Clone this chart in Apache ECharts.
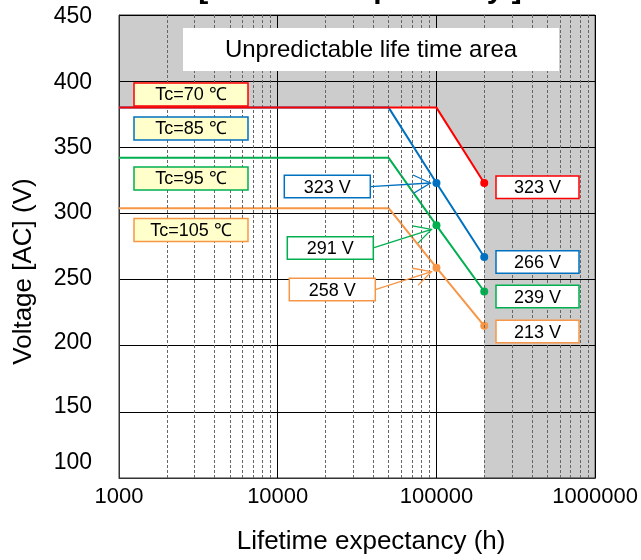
<!DOCTYPE html>
<html><head><meta charset="utf-8">
<script src="https://cdn.jsdelivr.net/npm/echarts@6/dist/echarts.min.js"></script>
<style>html,body{margin:0;padding:0;background:#fff}#c{width:641px;height:560px}</style>
</head><body><div id="c"></div>
<script>
// ---- data ----
const xTickLabels = ['1000', '10000', '100000', '1000000'];
const yTickLabels = ['100', '150', '200', '250', '300', '350', '400', '450'];
const seriesNames = ['Tc=70 ℃', 'Tc=85 ℃', 'Tc=95 ℃', 'Tc=105 ℃'];
const hours70 = [1000, 100000, 200000];
const volt70 = [380, 380, 323];
const hours85 = [1000, 50000, 100000, 200000];
const volt85 = [380, 380, 323, 267];
const hours95 = [1000, 50000, 100000, 200000];
const volt95 = [342, 342, 291, 241];
const hours105 = [1000, 50000, 100000, 200000];
const volt105 = [304, 304, 259, 215];
const endLabels = ['323 V', '266 V', '239 V', '213 V'];
const midLabels = ['323 V', '291 V', '258 V'];
const unpredictableHours = [1000, 100000, 200000, 200000, 1000000];
const unpredictableVolt = [380, 380, 323, 100, 100];
const minorGridHours = [2000, 3000, 4000, 5000, 6000, 7000, 8000, 9000,
  20000, 30000, 40000, 50000, 60000, 70000, 80000, 90000,
  200000, 300000, 400000, 500000, 600000, 700000, 800000, 900000];
const areaTitle = 'Unpredictable life time area';
const chartTitle = '[ Lifetime expectancy ]';

// ---- styles ----
const colors = ['#ff0000', '#0070c0', '#00b050', '#f79646'];
const FONT = "'Liberation Sans', Arial, sans-serif";
const yLabelLift = [15, 5, 3, 1, 1, 0, -2, -2]; // px the tick labels sit above their gridlines

function pts(h, v, dotIdx) {
  return h.map((x, i) => ({
    value: [x, v[i]],
    symbol: dotIdx.indexOf(i) >= 0 ? 'circle' : 'none'
  }));
}

const chart = echarts.init(document.getElementById('c'), null, {renderer: 'canvas'});

const lineSeries = [
  {name: seriesNames[3], data: pts(hours105, volt105, [2, 3]), color: colors[3], z: 3},
  {name: seriesNames[2], data: pts(hours95, volt95, [2, 3]), color: colors[2], z: 4},
  {name: seriesNames[1], data: pts(hours85, volt85, [2, 3]), color: colors[1], z: 5},
  {name: seriesNames[0], data: pts(hours70, volt70, [2]), color: colors[0], z: 6}
].map(s => ({
  type: 'line', name: s.name, data: s.data, z: s.z,
  symbolSize: 8, showAllSymbol: true,
  lineStyle: {color: s.color, width: 2},
  itemStyle: {color: s.color},
  silent: true, animation: false
}));

const yRich = {};
yLabelLift.forEach((d, i) => {
  yRich['l' + i] = {fontFamily: FONT, fontSize: 23, color: '#000',
    padding: d >= 0 ? [0, 0, 2 * d, 0] : [-2 * d, 0, 0, 0]};
});

chart.setOption({
  animation: false,
  grid: {left: 119, right: 44, top: 15, bottom: 74, show: true, borderColor: '#333', borderWidth: 1, backgroundColor: '#fff'},
  xAxis: {
    type: 'log', logBase: 10, min: 1000, max: 1000000,
    name: 'Lifetime expectancy (h)', nameLocation: 'middle', nameGap: 51,
    nameTextStyle: {fontFamily: FONT, fontSize: 26, color: '#000', padding: [0, 0, 0, 28]},
    axisLine: {lineStyle: {color: '#333'}},
    axisTick: {show: false},
    axisLabel: {fontFamily: FONT, fontSize: 22, color: '#000', margin: 8,
      formatter: v => xTickLabels[Math.round(Math.log10(v)) - 3] || ''},
    splitLine: {show: true, lineStyle: {color: '#000', width: 1}}
  },
  yAxis: {
    type: 'value', min: 100, max: 450, interval: 50,
    name: 'Voltage [AC] (V)', nameLocation: 'middle', nameGap: 82,
    nameTextStyle: {fontFamily: FONT, fontSize: 26, color: '#000', padding: [0, 50, 0, 0]},
    axisLine: {show: true, lineStyle: {color: '#333'}},
    axisTick: {show: false},
    axisLabel: {fontFamily: FONT, fontSize: 23, color: '#000', margin: 27, rich: yRich,
      formatter: v => {
        const i = Math.round((v - 100) / 50);
        return yTickLabels[i] ? '{l' + i + '|' + yTickLabels[i] + '}' : '';
      }},
    splitLine: {show: true, lineStyle: {color: '#000', width: 1}}
  },
  series: [
    {
      type: 'line', name: 'unpredictable', z: 1, silent: true,
      data: unpredictableHours.map((x, i) => [x, unpredictableVolt[i]]),
      symbol: 'none', lineStyle: {width: 0},
      areaStyle: {color: 'rgba(0,0,0,0.2)', origin: 'end', opacity: 1},
      markLine: {
        silent: true, symbol: 'none', label: {show: false},
        lineStyle: {color: '#666', type: [3, 2], width: 1},
        data: minorGridHours.map(h => ({xAxis: h}))
      }
    }
  ].concat(lineSeries)
});

// ---- annotations ----
function box(x, y, w, h, stroke, fill, text, fontSize) {
  return [
    {type: 'rect', shape: {x: x, y: y, width: w, height: h}, z: 100,
      style: {fill: fill, stroke: stroke, lineWidth: 1.5}},
    {type: 'text', x: x + w / 2, y: y + h / 2 + 1, z: 101,
      style: {text: text, fill: '#000', font: fontSize + 'px ' + FONT, align: 'center', verticalAlign: 'middle'}}
  ];
}
function arrow(tail, tip, color) {
  const dx = tip[0] - tail[0], dy = tip[1] - tail[1];
  const L = Math.sqrt(dx * dx + dy * dy);
  const ux = dx / L, uy = dy / L, nx = -uy, ny = ux;
  const hl = 17, hw = 9;
  return [
    {type: 'polyline', z: 99, shape: {points: [tail, tip]}, style: {stroke: color, lineWidth: 1.3, fill: null}},
    {type: 'polyline', z: 99, shape: {points: [
      [tip[0] - hl * ux + hw * nx, tip[1] - hl * uy + hw * ny], tip,
      [tip[0] - hl * ux - hw * nx, tip[1] - hl * uy - hw * ny]]},
      style: {stroke: color, lineWidth: 1.3, fill: null}}
  ];
}

const g = [];
g.push({type: 'text', x: 360, y: 5, z: 100,
  style: {text: chartTitle, fill: '#000', font: 'bold 30px ' + FONT, align: 'center', verticalAlign: 'bottom'}});
g.push(...box(183, 28, 376, 43, null, '#fff', areaTitle, 24));
const tcY = [83, 117, 167, 218.5];
for (let i = 0; i < 4; i++) g.push(...box(134, tcY[i], 114, 23, colors[i], '#ffffcc', seriesNames[i], 18));
const endY = [176, 250.7, 285.3, 320.3];
for (let i = 0; i < 4; i++) g.push(...box(496, endY[i], 83, 22.5, colors[i], '#fff', endLabels[i], 18));
const midBox = [[284.3, 175.3], [287.3, 236.7], [289.3, 278.3]];
const midVolt = [volt85[2], volt95[2], volt105[2]];
for (let i = 0; i < 3; i++) {
  const c = colors[i + 1];
  const p = chart.convertToPixel({gridIndex: 0}, [100000, midVolt[i]]);
  const bx = midBox[i][0], by = midBox[i][1], bw = 86, bh = 22.5;
  const tail = [bx + bw, by + bh / 2];
  const tip = i === 0 ? [p[0] - 6, p[1]] : [p[0] - 5, p[1] + 4];
  g.push(...arrow(tail, tip, c));
  g.push(...box(bx, by, bw, bh, c, '#fff', midLabels[i], 18));
}
chart.setOption({graphic: {elements: g}});
</script>
</body></html>
